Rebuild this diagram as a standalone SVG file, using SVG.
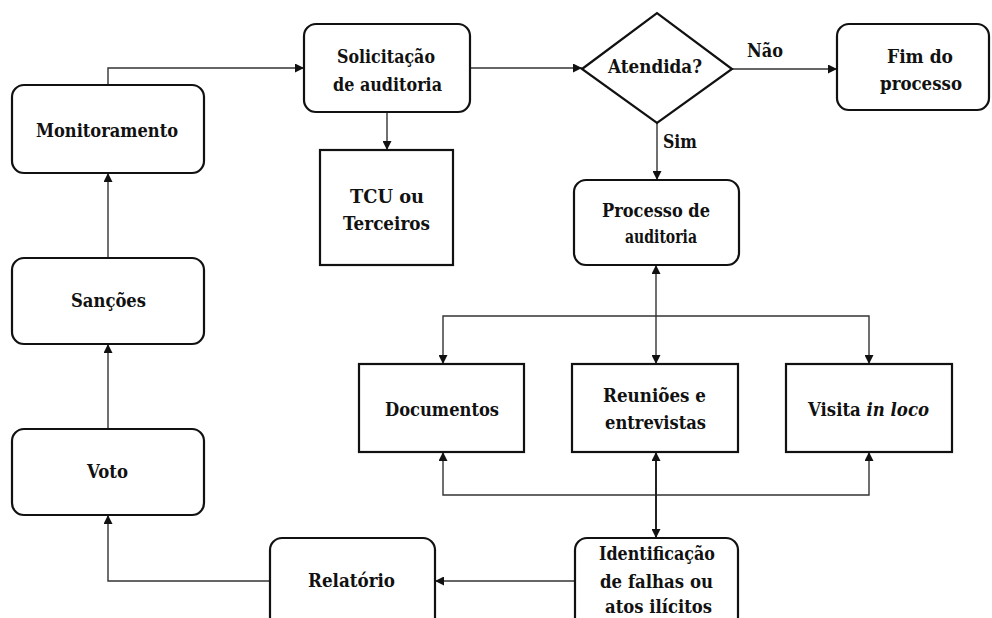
<svg xmlns="http://www.w3.org/2000/svg" width="992" height="618" viewBox="0 0 992 618">
<defs>
<marker id="ah" viewBox="0 0 10 10" refX="10" refY="5" markerWidth="9" markerHeight="9" markerUnits="userSpaceOnUse" orient="auto-start-reverse">
<path d="M0,0 L10,5 L0,10 z" fill="#111"/>
</marker>
</defs>
<style>
.box{fill:#fff;stroke:#111;stroke-width:2.2}
.ln{fill:none;stroke:#333;stroke-width:1.4}
.lt{fill:none;stroke:#222;stroke-width:2}
text{font-family:"DejaVu Serif","Liberation Serif",serif;font-weight:bold;font-size:18px;fill:#111}
</style>
<rect width="992" height="618" fill="#fff"/>
<g id="connectors">
<polyline class="ln" points="108,85 108,68 304,68" marker-end="url(#ah)"/>
<line class="ln" x1="470" y1="68" x2="582" y2="68" marker-end="url(#ah)"/>
<line class="ln" x1="387" y1="112" x2="387" y2="150" marker-end="url(#ah)"/>
<line class="ln" x1="732" y1="69" x2="837" y2="69" marker-end="url(#ah)"/>
<line class="ln" x1="657" y1="123" x2="657" y2="180" marker-end="url(#ah)"/>
<line class="ln" x1="656" y1="265" x2="656" y2="364" marker-start="url(#ah)" marker-end="url(#ah)"/>
<polyline class="ln" points="443,364 443,316 869,316 869,364" marker-start="url(#ah)" marker-end="url(#ah)"/>
<polyline class="ln" points="443,452 443,495 869,495 869,452" marker-start="url(#ah)" marker-end="url(#ah)"/>
<line class="lt" x1="656" y1="452" x2="656" y2="538" marker-start="url(#ah)" marker-end="url(#ah)"/>
<line class="ln" x1="575" y1="581" x2="435" y2="581" marker-end="url(#ah)"/>
<polyline class="ln" points="270,581 108,581 108,515" marker-end="url(#ah)"/>
<line class="ln" x1="108" y1="429" x2="108" y2="344" marker-end="url(#ah)"/>
<line class="ln" x1="108" y1="258" x2="108" y2="173" marker-end="url(#ah)"/>
</g>
<g id="monitoramento">
<rect class="box" x="12" y="85" width="192" height="88" rx="12"/>
<text x="36" y="137" textLength="142" lengthAdjust="spacingAndGlyphs">Monitoramento</text>
</g>
<g id="solicitacao">
<rect class="box" x="304" y="24" width="166" height="88" rx="12"/>
<text x="337" y="63" textLength="98" lengthAdjust="spacingAndGlyphs">Solicitação</text>
<text x="333" y="91" textLength="109" lengthAdjust="spacingAndGlyphs">de auditoria</text>
</g>
<g id="tcu">
<rect class="box" x="320" y="150" width="133" height="115"/>
<text x="350" y="203" textLength="74" lengthAdjust="spacingAndGlyphs">TCU ou</text>
<text x="343" y="230" textLength="87" lengthAdjust="spacingAndGlyphs">Terceiros</text>
</g>
<g id="atendida">
<polygon class="box" points="582,69 657,13 732,69 657,123"/>
<text x="608" y="73" textLength="94" lengthAdjust="spacingAndGlyphs">Atendida?</text>
</g>
<g id="labels">
<text x="747" y="57" textLength="36" lengthAdjust="spacingAndGlyphs">Não</text>
<text x="663" y="148" textLength="34" lengthAdjust="spacingAndGlyphs">Sim</text>
</g>
<g id="fim">
<rect class="box" x="837" y="24" width="152" height="86" rx="12"/>
<text x="887" y="63" textLength="66" lengthAdjust="spacingAndGlyphs">Fim do</text>
<text x="880" y="90" textLength="82" lengthAdjust="spacingAndGlyphs">processo</text>
</g>
<g id="processo">
<rect class="box" x="574" y="180" width="165" height="85" rx="12"/>
<text x="602" y="217" textLength="108" lengthAdjust="spacingAndGlyphs">Processo de</text>
<text x="625" y="243" textLength="72" lengthAdjust="spacingAndGlyphs">auditoria</text>
</g>
<g id="documentos">
<rect class="box" x="359" y="364" width="165" height="88"/>
<text x="385" y="416" textLength="114" lengthAdjust="spacingAndGlyphs">Documentos</text>
</g>
<g id="reunioes">
<rect class="box" x="572" y="364" width="166" height="88"/>
<text x="603" y="402" textLength="103" lengthAdjust="spacingAndGlyphs">Reuniões e</text>
<text x="605" y="429" textLength="101" lengthAdjust="spacingAndGlyphs">entrevistas</text>
</g>
<g id="visita">
<rect class="box" x="786" y="364" width="166" height="88"/>
<text x="808" y="416" textLength="121" lengthAdjust="spacingAndGlyphs">Visita <tspan font-style="italic">in loco</tspan></text>
</g>
<g id="sancoes">
<rect class="box" x="12" y="258" width="192" height="86" rx="12"/>
<text x="71" y="307" textLength="75" lengthAdjust="spacingAndGlyphs">Sanções</text>
</g>
<g id="voto">
<rect class="box" x="12" y="429" width="192" height="86" rx="12"/>
<text x="87" y="478" textLength="41" lengthAdjust="spacingAndGlyphs">Voto</text>
</g>
<g id="relatorio">
<rect class="box" x="270" y="538" width="165" height="92" rx="12"/>
<text x="308" y="587" textLength="87" lengthAdjust="spacingAndGlyphs">Relatório</text>
</g>
<g id="identificacao">
<rect class="box" x="575" y="538" width="163" height="92" rx="12"/>
<text x="599" y="560" textLength="116" lengthAdjust="spacingAndGlyphs">Identificação</text>
<text x="600" y="588" textLength="113" lengthAdjust="spacingAndGlyphs">de falhas ou</text>
<text x="605" y="613" textLength="107" lengthAdjust="spacingAndGlyphs">atos ilícitos</text>
</g>
</svg>
